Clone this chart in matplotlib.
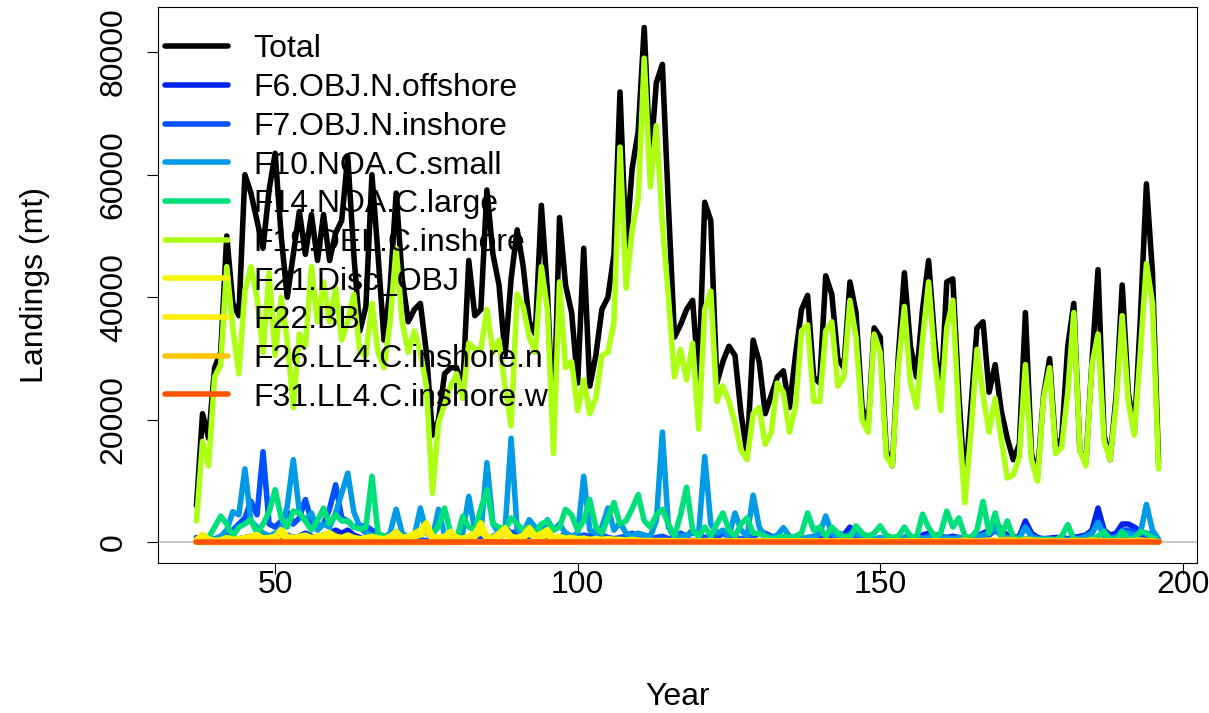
import matplotlib
matplotlib.use("Agg")
import matplotlib.pyplot as plt

plt.rcParams['font.family'] = ['Liberation Sans', 'DejaVu Sans']

years = list(range(37, 197))

total = [
    6000, 21000, 17000,
    28500, 31000, 50000, 39000, 37000, 60000, 57000, 52500, 48000, 57500,
    63500, 50000, 40000, 47000, 54000, 47000, 53500, 46000, 53500, 46000,
    50500, 52500, 63000, 47000, 34500, 38500, 60000, 47000, 33000, 41500,
    57000, 43000, 36000, 38000, 39000, 31000, 17500, 20000, 27500, 28500,
    28500, 25000, 46000, 37000, 38000, 57500, 47000, 42000, 30500, 43000,
    51000, 45000, 36000, 34000, 55000, 41000, 18000, 53000, 42000, 37500,
    26000, 48000, 25500, 30500, 38000, 40000, 47000, 73500, 48000, 61000,
    67000, 84000, 62000, 75000, 78000, 55000, 33500, 35500, 38000, 39500,
    26500, 55500, 52500, 26000, 29500, 32000, 30500, 21000, 14500, 33000,
    29500, 21000, 24000, 27000, 28000, 22000, 30500, 38000, 40300, 27000,
    26000, 43500, 40500, 30000, 28500, 42500, 37500, 22000, 19000, 35000,
    33500, 15000, 12500, 30500, 44000, 32000, 27000, 38000, 46000, 33000,
    23000, 42500, 43000, 24000, 9000, 22000, 35000, 36000, 24500, 29000,
    21500, 17000, 13500, 16000, 37500, 14500, 11000, 24000, 30000, 15500,
    17000, 32000, 39000, 15000, 13000, 29500, 44500, 17500, 13500, 24000,
    42000, 24500, 18000, 36500, 58500, 44000, 13000,
]

f6 = [
    800, 300, 200,
    300, 300, 400, 500, 600, 800, 1000, 800, 1500, 1000,
    800, 1000, 1200, 800, 1000, 1500, 1000, 800, 1200, 1500,
    2000, 1500, 2000, 1200, 800, 600, 500, 400, 300, 300,
    300, 300, 400, 300, 300, 200, 300, 300, 400, 300,
    300, 300, 400, 500, 400, 300, 500, 800, 1500, 1200,
    1000, 800, 600, 500, 500, 400, 300, 300, 400, 300,
    300, 300, 400, 500, 300, 300, 300, 400, 300, 300,
    300, 300, 300, 400, 500, 300, 300, 300, 400, 300,
    300, 300, 400, 300, 300, 300, 300, 200, 300, 300,
    300, 300, 300, 300, 300, 300, 400, 500, 600, 500,
    500, 800, 600, 1500, 1200, 2500, 1500, 800, 600, 500,
    500, 400, 500, 600, 800, 1000, 800, 1200, 1500, 1200,
    1000, 800, 1000, 800, 600, 800, 1000, 1500, 2000, 3700,
    2000, 1200, 800, 1000, 3500, 1500, 800, 600, 700, 800,
    800, 600, 800, 1000, 1200, 2000, 5600, 2000, 1200, 1500,
    3000, 3000, 2500, 1800, 1500, 1200, 300,
]

f7 = [
    500, 300, 200,
    300, 500, 1000, 2000, 3000, 4000, 6700, 4500, 14800, 3000,
    2500, 3500, 5000, 3000, 4000, 7000, 3500, 2500, 3000, 5500,
    9400, 4000, 3500, 2500, 2700, 2700, 2000, 1500, 800, 500,
    400, 500, 800, 600, 400, 300, 400, 600, 800, 500,
    400, 500, 600, 800, 600, 500, 1000, 1500, 2500, 1500,
    1800, 1200, 800, 600, 800, 600, 500, 800, 1500, 1000,
    800, 1200, 1000, 2000, 1200, 800, 600, 800, 1000, 1500,
    1000, 800, 600, 800, 1000, 600, 800, 1500, 1000, 2000,
    1200, 800, 1000, 800, 1500, 1000, 800, 600, 800, 1000,
    1500, 1500, 1000, 800, 600, 500, 500, 600, 800, 600,
    600, 800, 800, 1000, 1000, 1500, 1000, 600, 500, 500,
    400, 400, 500, 600, 800, 800, 600, 800, 1000, 800,
    800, 600, 800, 600, 500, 600, 800, 1000, 1200, 2000,
    1200, 800, 600, 800, 2500, 1000, 600, 500, 600, 600,
    600, 500, 600, 800, 1000, 1500, 3500, 1500, 800, 1000,
    2000, 2000, 1800, 1200, 1000, 800, 200,
]

f10 = [
    300, 500, 800,
    600, 1000, 2000, 5000, 4500, 12000, 3500, 2500, 1500, 1000,
    1500, 2000, 5900, 13500, 5000, 3500, 4800, 2000, 3000, 2500,
    4800, 8000, 11300, 5000, 2500, 1500, 1200, 1000, 800, 1500,
    5400, 1500, 800, 1000, 5600, 1500, 800, 5400, 1200, 1000,
    800, 1500, 7500, 2000, 1500, 13000, 3000, 1500, 2000, 17000,
    2000, 1500, 3700, 2500, 1500, 3700, 2000, 3000, 1500, 1000,
    1500, 10800, 2000, 1500, 2500, 5600, 2000, 3200, 1500, 1000,
    1500, 1200, 1000, 3500, 18000, 2500, 800, 1000, 1200, 1500,
    1500, 14000, 3000, 1500, 2000, 1000, 4800, 2000, 1000, 7700,
    2500, 1000, 800, 1200, 2400, 1000, 800, 600, 800, 1000,
    1500, 4300, 1500, 1000, 800, 1200, 1500, 1000, 800, 600,
    800, 600, 500, 600, 800, 1000, 800, 600, 800, 1000,
    800, 700, 600, 800, 600, 800, 1000, 1200, 1500, 2500,
    1200, 800, 600, 800, 2500, 1000, 600, 500, 500, 400,
    500, 400, 500, 600, 1000, 1500, 3200, 1000, 600, 800,
    1000, 1500, 1200, 1500, 6200, 2000, 500,
]

f14 = [
    200, 500, 800,
    2500, 4300, 3000, 1000, 2500, 3000, 3700, 1500, 3000, 5000,
    8600, 4000, 2500, 5100, 4800, 3500, 2000, 3500, 5600, 3000,
    4500, 3500, 3500, 2500, 2200, 2500, 10800, 1500, 1000, 1000,
    1200, 1000, 800, 1000, 1800, 2000, 1500, 2500, 5600, 1500,
    500, 4300, 2500, 2000, 5500, 8600, 3000, 2500, 2000, 4000,
    3000, 2000, 2500, 1500, 3000, 3500, 2000, 2500, 5400, 4500,
    2000, 3500, 7000, 2500, 1500, 4000, 6500, 3000, 3500, 5500,
    7800, 3500, 2500, 4500, 5400, 3000, 1000, 4500, 9000, 2000,
    1000, 2500, 1000, 3000, 4800, 2000, 1000, 3000, 4000, 1500,
    1500, 1000, 500, 800, 1000, 800, 1000, 1500, 4800, 2000,
    2500, 1000, 2500, 1500, 1000, 800, 2700, 1500, 1000, 1500,
    2700, 1200, 800, 1000, 2500, 1000, 800, 4600, 2400, 1000,
    1500, 5100, 2500, 4000, 1000, 800, 2000, 6700, 1500, 4800,
    1000, 3500, 800, 500, 600, 500, 400, 500, 500, 400,
    1000, 2900, 500, 300, 300, 600, 1000, 1800, 500, 300,
    1800, 500, 600, 1800, 1500, 800, 200,
]

f19 = [
    3500, 16500, 12500,
    27000, 29000, 45000, 35000, 27500, 41000, 45000, 40000, 31000, 44000,
    30500, 40000, 33000, 22000, 34000, 32000, 45000, 36000, 42500, 36000,
    41500, 33000, 36000, 40500, 31000, 30500, 39000, 31000, 28500, 36000,
    48000, 36000, 31000, 34500, 31000, 25500, 8000, 19500, 22500, 25500,
    27500, 23500, 32500, 31500, 31500, 38000, 31000, 33000, 25500, 19000,
    40500, 38500, 33500, 31000, 45000, 38000, 14500, 42500, 28500, 29500,
    21500, 26500, 21000, 23500, 30500, 31000, 36000, 64500, 41500, 51000,
    56000, 79000, 58000, 68000, 52000, 40000, 27000, 31500, 26500, 32500,
    18500, 38000, 41000, 23000, 25500, 23000, 19500, 15000, 13500, 21000,
    22000, 16000, 18000, 26000, 24500, 18000, 22000, 34500, 35500, 23000,
    23000, 34500, 36000, 25500, 27000, 39500, 33500, 20000, 18000, 34000,
    31000, 14000, 12500, 28500, 38500, 26000, 22000, 33000, 42500, 30000,
    21500, 35000, 39500, 20000, 6500, 18000, 31500, 24000, 18000, 23500,
    17000, 10500, 11000, 14000, 29000, 13500, 10000, 23500, 28500, 14500,
    15500, 24500, 37500, 15000, 12500, 29000, 34000, 16500, 13500, 22500,
    37000, 23000, 17500, 31000, 45500, 39000, 12000,
]

f21 = [
    500, 1300, 600,
    300, 400, 800, 500, 600, 800, 1000, 1300, 700, 800,
    1000, 2100, 1000, 800, 1000, 1200, 800, 1000, 1200, 1600,
    1000, 800, 1200, 800, 600, 800, 1000, 700, 600, 1000,
    1800, 800, 1000, 1500, 2000, 3200, 1000, 800, 1000, 1800,
    800, 700, 1000, 1500, 3200, 1000, 800, 1500, 2400, 1000,
    800, 1200, 2400, 1000, 1500, 2100, 800, 1000, 700, 800,
    600, 700, 500, 600, 500, 600, 500, 500, 400, 500,
    400, 300, 300, 300, 300, 300, 200, 300, 300, 200,
    200, 300, 200, 200, 300, 200, 200, 300, 200, 200,
    200, 200, 300, 200, 200, 200, 200, 300, 200, 200,
    200, 200, 200, 300, 200, 200, 200, 200, 200, 200,
    200, 200, 200, 200, 300, 200, 200, 200, 200, 200,
    200, 200, 200, 200, 200, 200, 200, 300, 200, 200,
    200, 200, 200, 200, 200, 200, 200, 200, 200, 200,
    200, 200, 200, 200, 200, 200, 200, 200, 200, 200,
    200, 200, 200, 200, 200, 200, 100,
]

f22 = [
    300, 800, 400,
    300, 300, 500, 400, 500, 600, 700, 800, 500, 600,
    700, 1200, 600, 500, 700, 800, 500, 700, 900, 1000,
    700, 600, 800, 500, 400, 600, 700, 500, 400, 700,
    1000, 600, 700, 900, 1200, 1800, 600, 500, 700, 1000,
    500, 500, 700, 900, 1800, 700, 500, 900, 1400, 700,
    500, 800, 1400, 700, 900, 1200, 500, 700, 500, 500,
    400, 500, 400, 400, 400, 400, 400, 300, 300, 300,
    300, 200, 200, 200, 200, 200, 200, 200, 200, 200,
    200, 200, 200, 200, 200, 200, 200, 200, 200, 200,
    200, 200, 200, 200, 200, 200, 200, 200, 200, 200,
    200, 200, 200, 200, 200, 200, 200, 200, 200, 200,
    200, 200, 200, 200, 200, 200, 200, 200, 200, 200,
    200, 200, 200, 200, 200, 200, 200, 200, 200, 200,
    200, 200, 200, 200, 200, 200, 200, 200, 200, 200,
    200, 200, 200, 200, 200, 200, 200, 200, 200, 200,
    200, 200, 200, 200, 200, 200, 100,
]

f26 = [
    0, 0, 0,
    0, 0, 0, 0, 0, 0, 0, 0, 0, 0,
    0, 0, 0, 0, 0, 0, 0, 0, 0, 0,
    0, 0, 0, 0, 0, 0, 0, 0, 0, 0,
    0, 0, 0, 0, 0, 0, 0, 0, 0, 0,
    100, 100, 100, 100, 100, 100, 100, 100, 100, 100,
    100, 100, 100, 100, 100, 100, 100, 100, 100, 100,
    200, 200, 200, 200, 200, 200, 200, 200, 200, 200,
    200, 200, 200, 200, 200, 200, 200, 200, 200, 200,
    200, 200, 200, 200, 200, 200, 200, 200, 200, 200,
    200, 200, 200, 200, 200, 200, 200, 200, 200, 200,
    200, 200, 200, 200, 300, 200, 200, 200, 200, 200,
    200, 200, 200, 200, 300, 200, 200, 200, 300, 200,
    200, 200, 200, 300, 400, 300, 200, 300, 400, 300,
    400, 500, 400, 300, 500, 400, 300, 200, 300, 300,
    300, 200, 300, 300, 300, 400, 300, 300, 200, 300,
    300, 300, 300, 400, 300, 200, 100,
]

f31 = [0] * 3 + [0] * 10 * 15 + [0] * 7

series = [
    ("Total", total, "#000000"),
    ("F6.OBJ.N.offshore", f6, "#0022EE"),
    ("F7.OBJ.N.inshore", f7, "#0050FF"),
    ("F10.NOA.C.small", f10, "#009AE6"),
    ("F14.NOA.C.large", f14, "#00E07A"),
    ("F19.DEL.C.inshore", f19, "#ADFF14"),
    ("F21.Disc_OBJ", f21, "#F5F500"),
    ("F22.BB", f22, "#FFEE00"),
    ("F26.LL4.C.inshore.n", f26, "#FFC400"),
    ("F31.LL4.C.inshore.w", f31, "#FF5500"),
]

for name, vals, col in series:
    assert len(vals) == len(years), (name, len(vals))

fs = 23

fig = plt.figure(figsize=(12.09, 7.13), dpi=100)
ax = fig.add_axes([158 / 1209, 1 - 563 / 713, (1197 - 158) / 1209, (563 - 7) / 713])

ax.axhline(0, color="#BEBEBE", lw=1.2, zorder=0)
for name, vals, col in series:
    ax.plot(years, vals, color=col, lw=4, label=name,
            solid_capstyle="round", solid_joinstyle="round")

ax.set_xlim(30.64, 202.36)
ax.set_ylim(-3360, 87360)
ax.set_xticks([50, 100, 150, 200])
ax.set_yticks([0, 20000, 40000, 60000, 80000])
ax.set_yticklabels(["0", "20000", "40000", "60000", "80000"], rotation=90, va="center")
ax.tick_params(labelsize=fs, length=8, width=0.8)
ax.tick_params(axis="x", pad=-3)
ax.tick_params(axis="y", pad=13)
ax.set_xlabel("Year", fontsize=fs, va="center")
ax.xaxis.set_label_coords(0.5, (563 - 697) / 556)
ax.set_ylabel("Landings (mt)", fontsize=fs, va="center")
ax.yaxis.set_label_coords((35 - 158) / 1039, 0.5)
for s in ax.spines.values():
    s.set_linewidth(0.8)

leg = ax.legend(loc="upper left", bbox_to_anchor=(-0.0193, 1.0), frameon=False,
                fontsize=fs, handlelength=1.97, handletextpad=0.78,
                labelspacing=0.272, borderaxespad=0.6, borderpad=0.26)
for h in leg.get_lines():
    h.set_linewidth(4)

fig.savefig("out.png", dpi=100)
